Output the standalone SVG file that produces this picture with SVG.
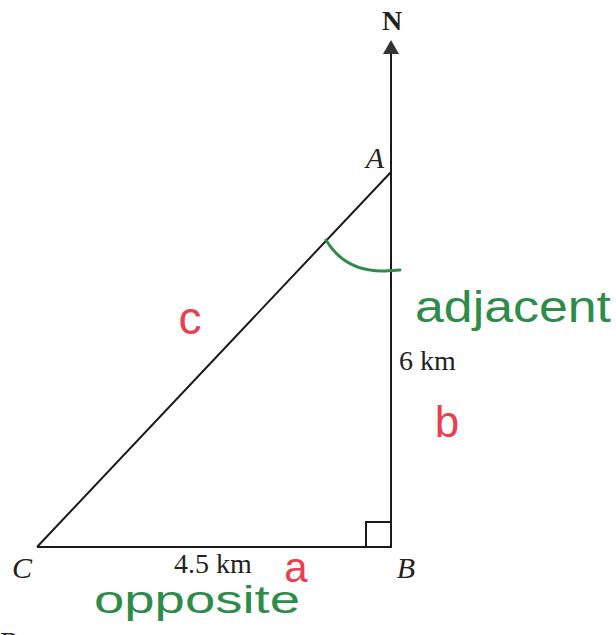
<svg xmlns="http://www.w3.org/2000/svg" width="616" height="635" viewBox="0 0 616 635">
<defs>
<style>
.ln{stroke:#1a1a1a;stroke-width:2;fill:none}
.lbl{font-family:"Liberation Serif",serif;font-size:28px;fill:#222}
.it{font-style:italic;font-size:30px}
.red{font-family:"Liberation Sans","DejaVu Sans",sans-serif;fill:#e8404f}
.grn{font-family:"Liberation Sans","DejaVu Sans",sans-serif;fill:#2e8b4a}
</style>
</defs>
<rect width="616" height="635" fill="#ffffff"/>
<g id="connectors">
<line class="ln" x1="391" y1="52" x2="391" y2="548" stroke="#333" stroke-width="2.5"/>
<polygon points="391,40 383,54 399,54" fill="#333"/>
<line class="ln" x1="37" y1="547" x2="391" y2="172"/>
<line class="ln" x1="37" y1="547" x2="391" y2="547"/>
<polyline class="ln" points="366,547 366,522 391,522" stroke-width="1.5"/>
<path d="M326,240 Q345,272 385,271 L400,270" fill="none" stroke="#2e8b4a" stroke-width="3" stroke-linecap="round"/>
</g>
<g id="north"><text class="lbl" x="392" y="30" text-anchor="middle" font-weight="bold" font-size="26">N</text></g>
<g id="A"><text class="lbl it" x="375" y="168" text-anchor="middle">A</text></g>
<g id="B"><text class="lbl it" x="406" y="578" text-anchor="middle">B</text></g>
<g id="C"><text class="lbl it" x="22" y="578" text-anchor="middle">C</text></g>
<g id="side-CB"><text class="lbl" x="213" y="573" text-anchor="middle">4.5 km</text></g>
<g id="side-AB"><text class="lbl" x="399" y="370">6 km</text></g>
<g id="label-c"><text class="red" x="190" y="334" font-size="46" text-anchor="middle">c</text></g>
<g id="label-b"><text class="red" x="447" y="437" font-size="44" text-anchor="middle">b</text></g>
<g id="label-a"><text class="red" x="296" y="582" font-size="42" text-anchor="middle">a</text></g>
<g id="label-adjacent"><text class="grn" x="415" y="322" font-size="44" textLength="196" lengthAdjust="spacingAndGlyphs">adjacent</text></g>
<g id="label-opposite"><text class="grn" x="94" y="613" font-size="38" textLength="206" lengthAdjust="spacingAndGlyphs">opposite</text></g>
<g id="fragment"><text class="lbl it" x="-2" y="652">B</text></g>
</svg>
